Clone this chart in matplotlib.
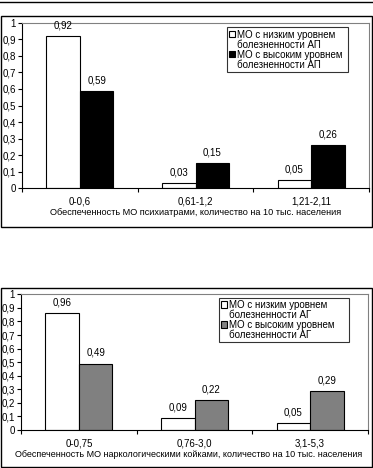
import matplotlib
matplotlib.use("Agg")
import matplotlib.pyplot as plt
from matplotlib.patches import Rectangle
from matplotlib.lines import Line2D
import numpy as np

plt.rcParams['font.family'] = ['Liberation Sans', 'DejaVu Sans']

# ---- data ----
cats_top = ["0-0,6", "0,61-1,2", "1,21-2,11"]
low_top = [0.92, 0.03, 0.05]
high_top = [0.59, 0.15, 0.26]
low_top_labels = ["0,92", "0,03", "0,05"]
high_top_labels = ["0,59", "0,15", "0,26"]
legend_top = [["МО с низким уровнем", "болезненности АП"],
              ["МО с высоким уровнем", "болезненности АП"]]
xlabel_top = "Обеспеченность МО психиатрами, количество на 10 тыс. населения"

cats_bot = ["0-0,75", "0,76-3,0", "3,1-5,3"]
low_bot = [0.86, 0.09, 0.05]
high_bot = [0.49, 0.22, 0.29]
low_bot_labels = ["0,96", "0,09", "0,05"]
high_bot_labels = ["0,49", "0,22", "0,29"]
legend_bot = [["МО с низким уровнем", "болезненности АГ"],
              ["МО с высоким уровнем", "болезненности АГ"]]
xlabel_bot = "Обеспеченность МО наркологическими койками, количество на 10 тыс. населения"

yticks = [0, 0.1, 0.2, 0.3, 0.4, 0.5, 0.6, 0.7, 0.8, 0.9, 1.0]
ytick_labels = ["0", "0,1", "0,2", "0,3", "0,4", "0,5", "0,6", "0,7", "0,8", "0,9", "1"]

W, H = 373, 468
fig = plt.figure(figsize=(W / 100, H / 100), dpi=100)
fs = 7


def px_axes(l, r, t, b):
    return fig.add_axes([l / W, 1 - b / H, (r - l) / W, (b - t) / H])


def draw(ax, cats, low, high, llab, hlab, leg, xlabel, dark, leg_box, xl_fs, xl_xy):
    x = np.arange(len(cats))
    w = 0.29
    b1 = ax.bar(x - w / 2, low, w, color="white", edgecolor="black", linewidth=0.8)
    b2 = ax.bar(x + w / 2, high, w, color=dark, edgecolor="black", linewidth=0.8)
    for rect, t in zip(b1, llab):
        ax.annotate(t, (rect.get_x() + rect.get_width() / 2, rect.get_height()),
                    xytext=(0, 4), textcoords="offset points", ha="center", va="bottom",
                    fontsize=fs)
    for rect, t in zip(b2, hlab):
        ax.annotate(t, (rect.get_x() + rect.get_width() / 2, rect.get_height()),
                    xytext=(0, 4), textcoords="offset points", ha="center", va="bottom",
                    fontsize=fs)
    ax.set_xlim(-0.5, len(cats) - 0.5)
    ax.set_ylim(0, 1)
    ax.set_yticks(yticks)
    ax.set_yticklabels(ytick_labels, fontsize=fs)
    ax.set_xticks(x)
    ax.set_xticklabels(cats, fontsize=fs)
    ax.set_xticks(np.arange(-0.5, len(cats), 1.0), minor=True)
    ax.tick_params(axis="x", which="major", length=0, pad=6)
    ax.tick_params(axis="x", which="minor", length=3, width=0.8, direction="out")
    ax.tick_params(axis="y", length=3, width=0.8, direction="out", pad=1.5)
    ax.set_xlabel(xlabel, fontsize=xl_fs)
    ax.xaxis.set_label_coords(*xl_xy)
    for s in ["top", "right"]:
        ax.spines[s].set_color("#808080")
        ax.spines[s].set_linewidth(0.8)
    for s in ["left", "bottom"]:
        ax.spines[s].set_color("black")
        ax.spines[s].set_linewidth(0.8)
    h1 = Rectangle((0, 0), 1, 1, facecolor="white", edgecolor="black", linewidth=0.8)
    h2 = Rectangle((0, 0), 1, 1, facecolor=dark, edgecolor="black", linewidth=0.8)
    blank = Rectangle((0, 0), 1, 1, facecolor="none", edgecolor="none")
    handles = [h1, blank, h2, blank]
    labels = [leg[0][0], leg[0][1], leg[1][0], leg[1][1]]
    l, r, t, b = leg_box
    lg = ax.legend(handles, labels, loc="center left",
                   bbox_to_anchor=(l / W, 1 - b / H, (r - l) / W, (b - t) / H),
                   bbox_transform=fig.transFigure, mode="expand",
                   fontsize=fs, frameon=True, fancybox=False, borderpad=0.25,
                   handlelength=0.6, handleheight=0.6, handletextpad=0.2,
                   labelspacing=0.0, borderaxespad=0)
    lg.get_frame().set_edgecolor("black")
    lg.get_frame().set_linewidth(0.8)


ax1 = px_axes(22, 369, 22.7, 188.3)
draw(ax1, cats_top, low_top, high_top, low_top_labels, high_top_labels, legend_top,
     xlabel_top, "black", (227, 348, 28, 71), 6.6, (0.5, -0.118))

ax2 = px_axes(21, 368, 294.3, 430)
draw(ax2, cats_bot, low_bot, high_bot, low_bot_labels, high_bot_labels, legend_bot,
     xlabel_bot, "#808080", (219, 349, 298, 342), 6.5, (0.483, -0.15))

# frames
def frame(l, r, t, b):
    fig.add_artist(Rectangle((l / W, 1 - b / H), (r - l) / W, (b - t) / H,
                             transform=fig.transFigure, fill=False,
                             edgecolor="black", linewidth=1.0))

fig.add_artist(Line2D([0, 1], [1 - 2 / H, 1 - 2 / H], transform=fig.transFigure,
                      color="black", linewidth=1.0))
frame(1, 371.5, 16, 227)
frame(1, 371.5, 288, 466.5)

fig.savefig("out.png", dpi=100)
